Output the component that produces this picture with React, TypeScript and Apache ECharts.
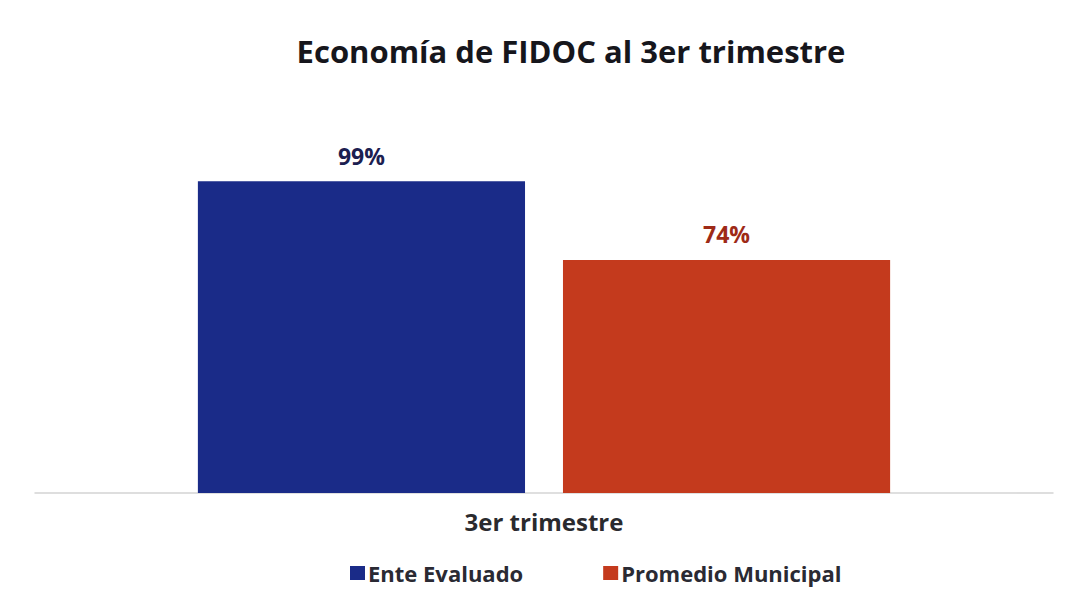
import React, { useEffect, useRef } from "react";
import * as echarts from "echarts";

const categories = ["3er trimestre"];
const seriesNames = ["Ente Evaluado", "Promedio Municipal"];
const enteValues = [99];
const promedioValues = [74];
const colors = ["#1a2b88", "#c43a1d"];
const labelColors = ["#1c2050", "#9e2a17"];

export default function App() {
  const ref = useRef<HTMLDivElement>(null);
  useEffect(() => {
    if (!ref.current) return;
    const chart = echarts.init(ref.current, null, { renderer: "svg" });
    const font = "Open Sans";
    chart.setOption({
      animation: false,
      backgroundColor: "#ffffff",
      textStyle: { fontFamily: font },
      title: {
        text: "Economía de FIDOC al 3er trimestre",
        left: 566,
        textAlign: "center",
        top: 30,
        textStyle: { fontFamily: font, fontSize: 31, fontWeight: "bold", color: "#16161c" },
      },
      legend: {
        left: 345,
        top: 557,
        itemWidth: 15,
        itemHeight: 14,
        itemGap: 80,
        icon: "rect",
        textStyle: { fontFamily: font, fontSize: 22, fontWeight: "bold", color: "#2a2a33", padding: [0, 0, 0, -2] },
        data: seriesNames,
      },
      grid: { left: 35, right: 14, top: 178, bottom: 102, containLabel: false },
      xAxis: {
        type: "category",
        data: categories,
        axisLine: { show: true, lineStyle: { color: "#d4d4d4", width: 1.5 } },
        axisTick: { show: false },
        axisLabel: { fontFamily: font, fontSize: 24, fontWeight: "bold", color: "#2a2a2e", margin: 16 },
      },
      yAxis: {
        type: "value",
        min: 0,
        max: 100,
        show: false,
        splitLine: { show: false },
      },
      series: [
        {
          name: seriesNames[0],
          type: "bar",
          data: enteValues,
          barGap: "11.6%",
          barCategoryGap: "32%",
          itemStyle: { color: colors[0] },
          label: {
            show: true,
            position: "top",
            distance: 14,
            formatter: "{c}%",
            fontFamily: font,
            fontSize: 23,
            fontWeight: "bold",
            color: labelColors[0],
          },
        },
        {
          name: seriesNames[1],
          type: "bar",
          data: promedioValues,
          itemStyle: { color: colors[1] },
          label: {
            show: true,
            position: "top",
            distance: 14,
            formatter: "{c}%",
            fontFamily: font,
            fontSize: 23,
            fontWeight: "bold",
            color: labelColors[1],
          },
        },
      ],
    });
    return () => chart.dispose();
  }, []);
  return <div ref={ref} style={{ width: 1067, height: 595, position: "absolute", left: 0, top: 0 }} />;
}
